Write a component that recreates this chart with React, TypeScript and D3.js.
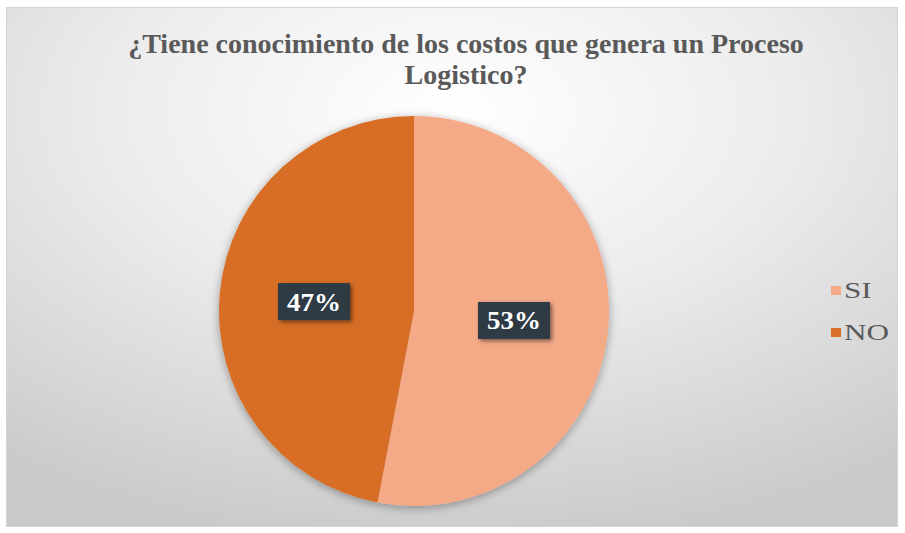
import React from "react";
import * as d3 from "d3";

const categories = ["SI", "NO"];
const values = [53, 47];
const labels = ["53%", "47%"];
const colors = ["#F4A987", "#D86E27"];
const titleLines = ["¿Tiene conocimiento de los costos que genera un Proceso", "Logistico?"];

export default function App() {
  const W = 905, H = 533;
  const cx = 414, cy = 311, r = 195;
  const pie = d3.pie<number>().sort(null).value((d) => d);
  const arcs = pie(values);
  const arc = d3.arc<d3.PieArcDatum<number>>().innerRadius(0).outerRadius(r);
  const labelArc = d3.arc<d3.PieArcDatum<number>>().innerRadius(0).outerRadius(r * 1.03);
  const font = "'Liberation Serif', 'Times New Roman', serif";
  return (
    <svg width={W} height={H} style={{ position: "absolute", left: 0, top: 0 }}>
      <defs>
        <radialGradient id="bg" cx="0.5" cy="0.2" r="0.85">
          <stop offset="0" stopColor="#ffffff" />
          <stop offset="0.45" stopColor="#ececec" />
          <stop offset="1" stopColor="#c9c9c9" />
        </radialGradient>
        <filter id="glow" x="-20%" y="-20%" width="140%" height="140%">
          <feGaussianBlur in="SourceAlpha" stdDeviation="5" />
          <feOffset dx="0" dy="2" />
          <feComponentTransfer><feFuncA type="linear" slope="0.35" /></feComponentTransfer>
          <feMerge><feMergeNode /><feMergeNode in="SourceGraphic" /></feMerge>
        </filter>
        <filter id="boxsh" x="-30%" y="-30%" width="160%" height="160%">
          <feGaussianBlur in="SourceAlpha" stdDeviation="2" />
          <feOffset dx="2" dy="2" />
          <feComponentTransfer><feFuncA type="linear" slope="0.5" /></feComponentTransfer>
          <feMerge><feMergeNode /><feMergeNode in="SourceGraphic" /></feMerge>
        </filter>
      </defs>
      <rect x={0} y={0} width={W} height={H} fill="#ffffff" />
      <rect x={6.5} y={7.5} width={891} height={519} fill="url(#bg)" stroke="#d4d4d4" />
      {titleLines.map((t, i) => (
        <text key={i} x={466} y={53 + i * 31} textAnchor="middle" fontWeight="bold"
          fontSize={28} fill="#595959" style={{ fontFamily: font }}>{t}</text>
      ))}
      <g transform={`translate(${cx},${cy})`} filter="url(#glow)">
        {arcs.map((a, i) => (
          <path key={i} d={arc(a) || ""} fill={colors[i]} />
        ))}
      </g>
      <g transform={`translate(${cx},${cy})`}>
        {arcs.map((a, i) => {
          const [x, y] = labelArc.centroid(a);
          const bw = 72, bh = 37;
          return (
            <g key={i} transform={`translate(${x},${y})`}>
              <rect x={-bw / 2} y={-bh / 2} width={bw} height={bh} fill="#2F3B44" filter="url(#boxsh)" />
              <text x={0} y={9} textAnchor="middle" fontWeight="bold" fontSize={25} fill="#ffffff"
                transform="scale(1.08,1)" style={{ fontFamily: font }}>{labels[i]}</text>
            </g>
          );
        })}
      </g>
      {categories.map((c, i) => (
        <g key={c} transform={`translate(831,${286 + i * 42})`}>
          <rect x={0} y={0} width={10} height={9} fill={colors[i]} />
          <text x={0} y={12} fontSize={24} fill="#595959" transform="translate(13,0) scale(1.3,1)"
            style={{ fontFamily: font }}>{c}</text>
        </g>
      ))}
    </svg>
  );
}
